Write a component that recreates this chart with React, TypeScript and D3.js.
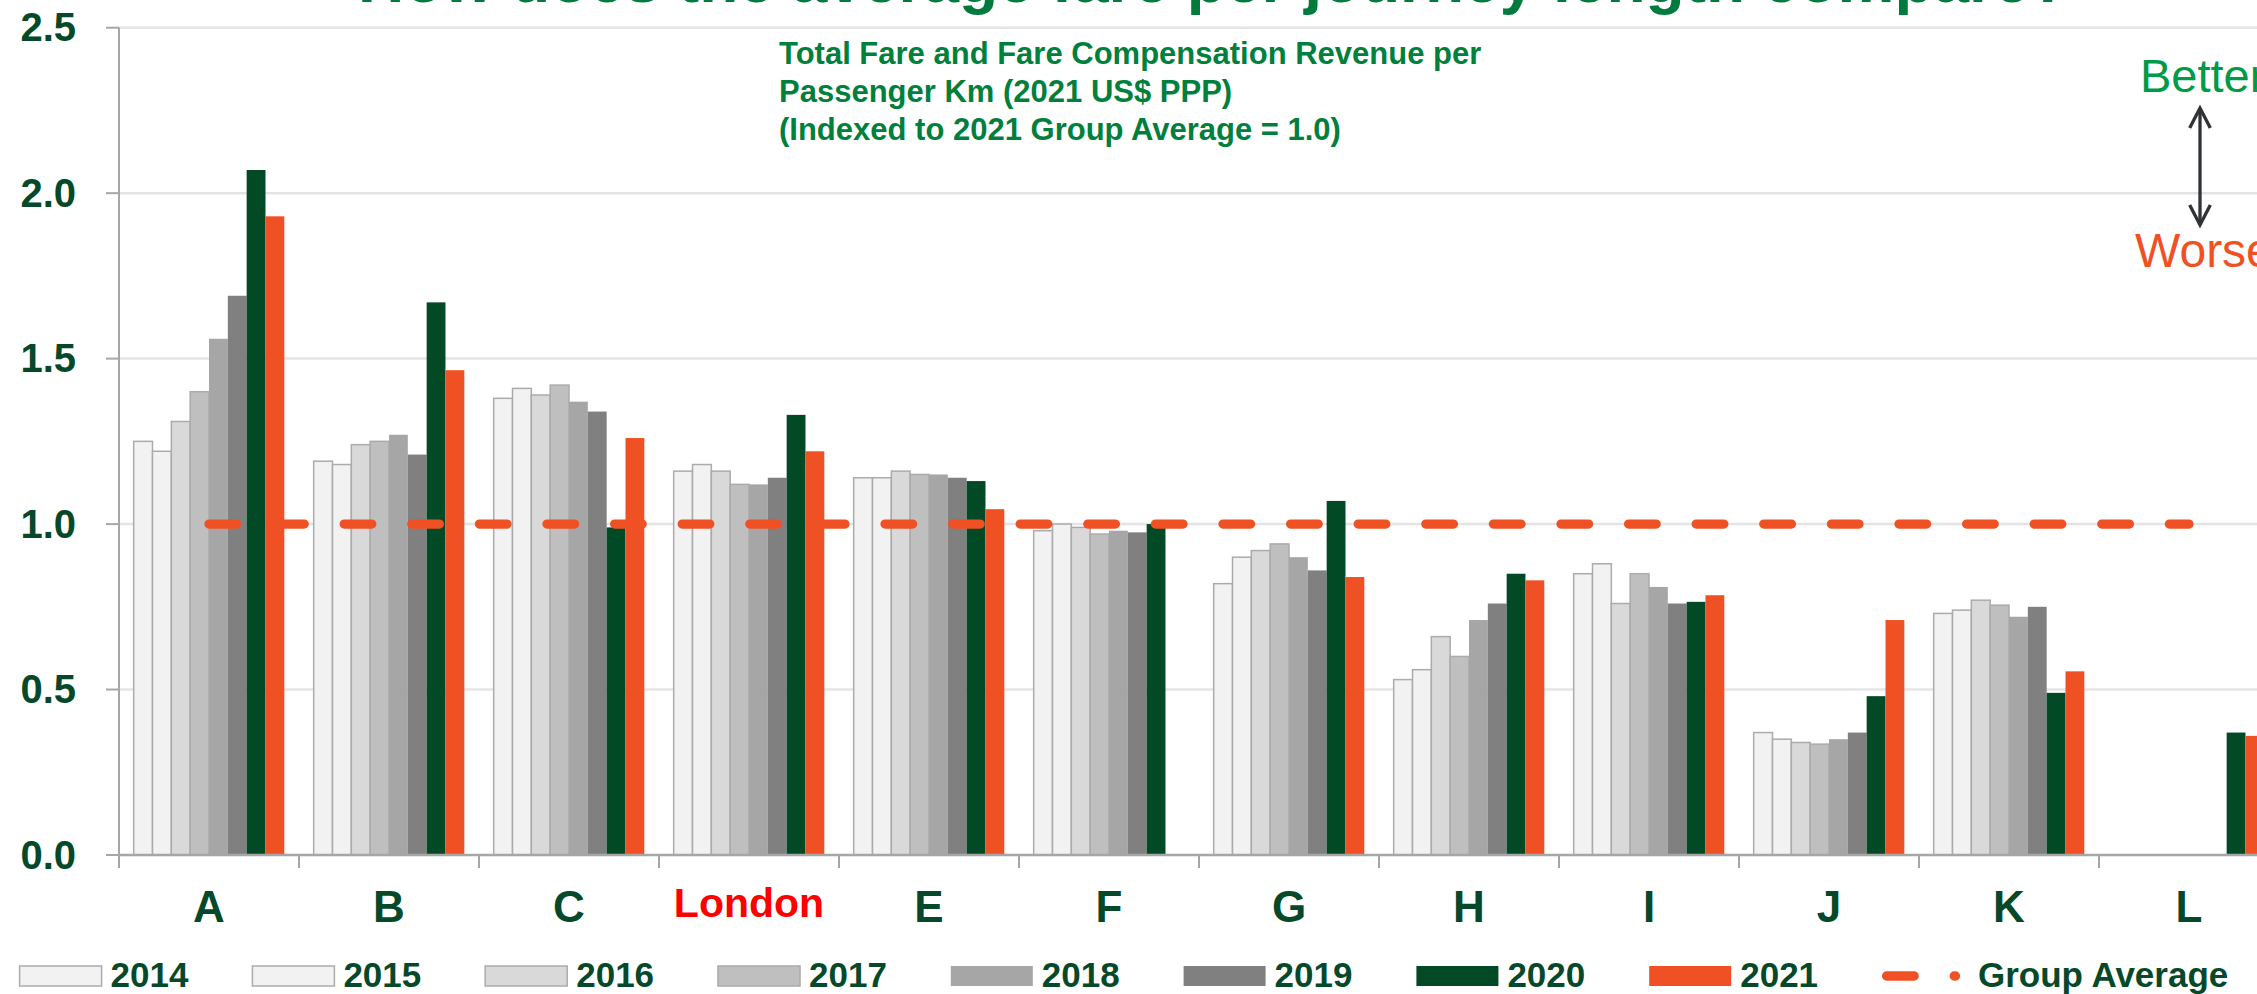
import React, { useEffect, useRef } from 'react';
import * as d3 from 'd3';

// categories and series
const categories = ['A', 'B', 'C', 'London', 'E', 'F', 'G', 'H', 'I', 'J', 'K', 'L'];
const years = ['2014', '2015', '2016', '2017', '2018', '2019', '2020', '2021'];

const v2014 = [1.25, 1.19, 1.38, 1.16, 1.14, 0.98, 0.82, 0.53, 0.85, 0.37, 0.73, null];
const v2015 = [1.22, 1.18, 1.41, 1.18, 1.14, 1.0, 0.9, 0.56, 0.88, 0.35, 0.74, null];
const v2016 = [1.31, 1.24, 1.39, 1.16, 1.16, 0.99, 0.92, 0.66, 0.76, 0.34, 0.77, null];
const v2017 = [1.4, 1.25, 1.42, 1.12, 1.15, 0.97, 0.94, 0.6, 0.85, 0.335, 0.755, null];
const v2018 = [1.56, 1.27, 1.37, 1.12, 1.15, 0.98, 0.9, 0.71, 0.81, 0.35, 0.72, null];
const v2019 = [1.69, 1.21, 1.34, 1.14, 1.14, 0.975, 0.86, 0.76, 0.76, 0.37, 0.75, null];
const v2020 = [2.07, 1.67, 0.99, 1.33, 1.13, 1.0, 1.07, 0.85, 0.765, 0.48, 0.49, 0.37];
const v2021 = [1.93, 1.465, 1.26, 1.22, 1.045, null, 0.84, 0.83, 0.785, 0.71, 0.555, 0.36];
const groupAverage = [1, 1, 1, 1, 1, 1, 1, 1, 1, 1, 1, 1];

const yTicks = [0, 0.5, 1.0, 1.5, 2.0, 2.5];

const seriesValues = [v2014, v2015, v2016, v2017, v2018, v2019, v2020, v2021];
const seriesColors = ['#F2F2F2', '#F2F2F2', '#D9D9D9', '#BFBFBF', '#A6A6A6', '#808080', '#024A25', '#F05124'];

const DARK_GREEN = '#06492A';
const FONT = '"Liberation Sans", Arial, sans-serif';

const App = () => {
  const svgRef = useRef<SVGSVGElement>(null);

  useEffect(() => {
    const width = 2257;
    const height = 994;
    const left = 119;
    const bottom = 855;

    const svg = d3.select(svgRef.current);
    svg.selectAll('*').remove();
    svg.attr('width', width).attr('height', height).style('font-family', FONT);

    const y = d3.scaleLinear().domain([0, 2.5]).range([bottom, 27.7]);
    const x0 = d3.scaleBand().domain(categories).range([left, left + 180 * categories.length]).padding(0);
    const x1 = d3.scaleBand().domain(years).range([0, x0.bandwidth()]).paddingInner(0).paddingOuter(0.78);

    // title (mostly off the top of the picture)
    svg.append('text')
      .attr('x', 358)
      .attr('y', 1.5)
      .style('font-size', '64px')
      .style('font-weight', 'bold')
      .style('fill', '#007A3D')
      .text('How does the average fare per journey length compare?');

    // gridlines
    svg.append('g')
      .selectAll('line')
      .data(yTicks.filter(t => t > 0))
      .enter().append('line')
      .attr('x1', left).attr('x2', width)
      .attr('y1', d => y(d)).attr('y2', d => y(d))
      .attr('stroke', '#E4E4E4')
      .attr('stroke-width', 2.5);

    // bars
    const barData: { cat: string; year: string; value: number; i: number }[] = [];
    years.forEach((yr, i) => {
      seriesValues[i].forEach((v, j) => {
        if (v != null) barData.push({ cat: categories[j], year: yr, value: v, i });
      });
    });

    svg.append('g')
      .selectAll('rect')
      .data(barData)
      .enter().append('rect')
      .attr('x', d => (x0(d.cat) as number) + (x1(d.year) as number))
      .attr('y', d => y(d.value))
      .attr('width', x1.bandwidth())
      .attr('height', d => bottom - y(d.value))
      .attr('fill', d => seriesColors[d.i])
      .attr('stroke', d => (d.i < 4 ? '#ABABAB' : 'none'))
      .attr('stroke-width', 1.5);

    // y axis
    svg.append('line')
      .attr('x1', left).attr('x2', left)
      .attr('y1', y(2.5)).attr('y2', bottom)
      .attr('stroke', '#A6A6A6').attr('stroke-width', 2);

    svg.append('g')
      .selectAll('line')
      .data(yTicks)
      .enter().append('line')
      .attr('x1', left - 13).attr('x2', left)
      .attr('y1', d => y(d)).attr('y2', d => y(d))
      .attr('stroke', '#A6A6A6').attr('stroke-width', 2);

    svg.append('g')
      .selectAll('text')
      .data(yTicks)
      .enter().append('text')
      .attr('x', 76)
      .attr('y', d => y(d) + 13.5)
      .style('text-anchor', 'end')
      .style('font-size', '40px')
      .style('font-weight', 'bold')
      .style('fill', DARK_GREEN)
      .text(d => d.toFixed(1));

    // x axis
    svg.append('line')
      .attr('x1', left).attr('x2', width)
      .attr('y1', bottom).attr('y2', bottom)
      .attr('stroke', '#A6A6A6').attr('stroke-width', 2.5);

    svg.append('g')
      .selectAll('line')
      .data(categories)
      .enter().append('line')
      .attr('x1', d => x0(d) as number).attr('x2', d => x0(d) as number)
      .attr('y1', bottom).attr('y2', bottom + 13)
      .attr('stroke', '#A6A6A6').attr('stroke-width', 2);

    svg.append('g')
      .selectAll('text')
      .data(categories)
      .enter().append('text')
      .attr('x', d => (x0(d) as number) + x0.bandwidth() / 2)
      .attr('y', d => (d === 'London' ? 917 : 922))
      .style('text-anchor', 'middle')
      .style('font-size', d => (d === 'London' ? '41px' : '44px'))
      .style('font-weight', 'bold')
      .style('fill', d => (d === 'London' ? '#FF0000' : DARK_GREEN))
      .text(d => d);

    // group average dashed line
    const avgLine = d3.line<number>()
      .x((d, i) => (x0(categories[i]) as number) + x0.bandwidth() / 2)
      .y(d => y(d));

    svg.append('path')
      .datum(groupAverage)
      .attr('d', avgLine)
      .attr('fill', 'none')
      .attr('stroke', '#F05124')
      .attr('stroke-width', 9.3)
      .attr('stroke-linecap', 'round')
      .attr('stroke-dasharray', '27.6 40');

    // subtitle
    const sub = [
      'Total Fare and Fare Compensation Revenue per',
      'Passenger Km (2021 US$ PPP)',
      '(Indexed to 2021 Group Average = 1.0)',
    ];
    svg.append('g')
      .selectAll('text')
      .data(sub)
      .enter().append('text')
      .attr('x', 779)
      .attr('y', (d, i) => 63.5 + i * 38.3)
      .style('font-size', '31px')
      .style('font-weight', 'bold')
      .style('fill', '#00803C')
      .text(d => d);

    // better / worse arrow
    svg.append('text')
      .attr('x', 2140).attr('y', 91.7)
      .style('font-size', '47px')
      .style('fill', '#009A48')
      .text('Better');
    svg.append('text')
      .attr('x', 2135).attr('y', 266.5)
      .style('font-size', '48px')
      .style('fill', '#F05124')
      .text('Worse');

    const arrow = svg.append('g')
      .attr('fill', 'none')
      .attr('stroke', '#2F3336')
      .attr('stroke-width', 3.3);
    arrow.append('line').attr('x1', 2200).attr('x2', 2200).attr('y1', 109).attr('y2', 224);
    arrow.append('path').attr('d', 'M2189.7,128 L2200,108 L2210.3,128');
    arrow.append('path').attr('d', 'M2189.7,205 L2200,225 L2210.3,205');

    // legend
    const legendNames = [...years, 'Group Average'];
    const legend = svg.append('g')
      .selectAll('g')
      .data(legendNames)
      .enter().append('g')
      .attr('transform', (d, i) => `translate(${19.6 + i * 232.8},0)`);

    legend.filter((d, i) => i < years.length)
      .append('rect')
      .attr('x', 0).attr('y', 966)
      .attr('width', 82).attr('height', 20)
      .attr('fill', (d, i) => seriesColors[i])
      .attr('stroke', (d, i) => (i < 4 ? '#ABABAB' : 'none'))
      .attr('stroke-width', 1.5);

    legend.filter((d, i) => i === years.length)
      .append('line')
      .attr('x1', 4.6).attr('x2', 73.5)
      .attr('y1', 976).attr('y2', 976)
      .attr('stroke', '#F05124')
      .attr('stroke-width', 9.3)
      .attr('stroke-linecap', 'round')
      .attr('stroke-dasharray', '27.6 40');

    legend.append('text')
      .attr('x', (d, i) => (i === years.length ? 96 : 91))
      .attr('y', 987)
      .style('font-size', '35px')
      .style('font-weight', 'bold')
      .style('fill', DARK_GREEN)
      .text(d => d);
  }, []);

  return (
    <svg ref={svgRef} style={{ position: 'absolute', left: 0, top: 0, display: 'block' }}></svg>
  );
};

export default App;
